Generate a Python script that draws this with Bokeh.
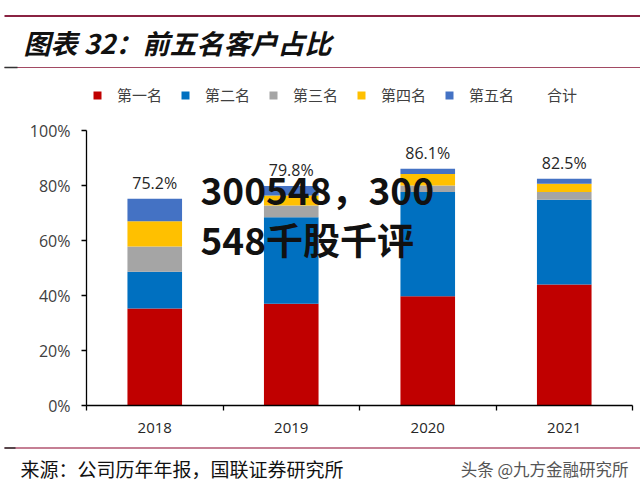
from bokeh.plotting import figure
from bokeh.models import (ColumnDataSource, Range1d, LinearAxis, FixedTicker, Arrow,
                          Legend, LegendItem, Label, PrintfTickFormatter)
from bokeh.embed import file_html
from bokeh.resources import INLINE

# ---------------- data ----------------
years = ["2018", "2019", "2020", "2021"]
top1 = [35.3, 37.0, 39.7, 44.0]
top2 = [13.3, 31.5, 37.9, 30.8]
top3 = [9.2, 4.2, 2.4, 2.8]
top4 = [9.2, 3.7, 4.2, 3.0]
top5 = [8.2, 3.4, 1.9, 1.9]
totals = [75.2, 79.8, 86.1, 82.5]
series_names = ["第一名", "第二名", "第三名", "第四名", "第五名"]
total_name = "合计"
y_ticks = [0, 20, 40, 60, 80, 100]

title_text = "图表 32：前五名客户占比"
source_text = "来源：公司历年年报，国联证券研究所"
credit_text = "头条 @九方金融研究所"
overlay_lines = ["300548，300", "548千股千评"]

# ---------------- style / layout ----------------
series_colors = ["#C00000", "#0070C0", "#A5A5A5", "#FFC000", "#4472C4"]
CJK = "Noto Sans CJK SC"
NUM = "Open Sans"
W, H = 640, 494
AX_L, AX_R = 86, 632      # x-axis extent in page pixels
AX_B, AX_T = 405, 130     # y-axis 0% / 100% in page pixels

n = len(years)
px_x = (AX_R - AX_L) / n
px_y = (AX_B - AX_T) / 100.0
x_range = Range1d(0.5 - AX_L / px_x, n + 0.5 + (W - AX_R) / px_x)
y_range = Range1d(-(H - AX_B) / px_y, AX_B / px_y)


def sx(X):
    return X


def sy(Y):
    return H - Y


xs = [i + 1 for i in range(n)]
src = ColumnDataSource(dict(x=xs, top1=top1, top2=top2, top3=top3, top4=top4, top5=top5))

p = figure(width=W, height=H, x_range=x_range, y_range=y_range, toolbar_location=None,
           output_backend="svg", x_axis_location=None, y_axis_location=None,
           min_border=0, outline_line_color=None)
p.grid.visible = False

yaxis = LinearAxis(ticker=FixedTicker(ticks=y_ticks), formatter=PrintfTickFormatter(format="%d%%"),
                   fixed_location=0.5, bounds=(0, 100),
                   axis_line_color="black", axis_line_width=1.3,
                   major_tick_line_color="black", major_tick_line_width=1.3,
                   major_tick_out=5, major_tick_in=0, minor_tick_line_color=None,
                   major_label_standoff=11, major_label_text_font=NUM,
                   major_label_text_font_size="16px", major_label_text_color="#404040")
p.add_layout(yaxis, "left")

minor = [x - 0.5 for x in xs] + [xs[-1] + 0.5]
xaxis = LinearAxis(ticker=FixedTicker(ticks=xs, minor_ticks=minor),
                   major_label_overrides={x: y for x, y in zip(xs, years)},
                   fixed_location=0, bounds=(0.5, n + 0.5),
                   axis_line_color="black", axis_line_width=1.3,
                   major_tick_out=0, major_tick_in=0,
                   minor_tick_out=5, minor_tick_in=0, minor_tick_line_color="black",
                   minor_tick_line_width=1.3, major_label_standoff=12,
                   major_label_text_font=NUM, major_label_text_font_size="15px",
                   major_label_text_color="#262626")
p.add_layout(xaxis, "below")

rs = p.vbar_stack(stackers=["top1", "top2", "top3", "top4", "top5"], x="x", width=0.4,
                  fill_color=series_colors, line_color=None, source=src)

tsrc = ColumnDataSource(dict(x=xs, y=totals, label=[f"{v:.1f}%" for v in totals]))
tr = p.text(x="x", y="y", text="label", source=tsrc, text_font={"value": NUM},
            text_font_size="16px", text_color="#262626", text_align="center",
            text_baseline="bottom", y_offset=-5)

legend_style = dict(orientation="horizontal", padding=7, spacing=18, glyph_width=10,
                    glyph_height=10, label_standoff=15, label_text_font=CJK,
                    label_text_font_size="15px", label_text_color="#404040",
                    border_line_color=None, background_fill_alpha=0, margin=0)
items = [LegendItem(label=nm, renderers=[r]) for nm, r in zip(series_names, rs)]
p.add_layout(Legend(items=items, location=(sx(92), sy(105)), **legend_style))
p.add_layout(Legend(items=[LegendItem(label=total_name, renderers=[tr])],
                    location=(sx(522), sy(105)), **legend_style))

# watermark overlay text
for txt, Y in zip(overlay_lines, [188, 238]):
    p.add_layout(Label(x=sx(200), y=sy(Y), x_units="screen", y_units="screen", text=txt,
                       text_font=CJK, text_font_size="37px", text_font_style="bold",
                       text_color="#111111", text_baseline="middle", text_align="left"))


def rule(x0, x1, Y, color, width):
    p.add_layout(Arrow(end=None, x_start=sx(x0), x_end=sx(x1), y_start=sy(Y), y_end=sy(Y),
                       start_units="screen", end_units="screen",
                       line_color=color, line_width=width))


# header
rule(4, 640, 15.5, "#8A2342", 2)
rule(4, 640, 67, "#A24A63", 1.2)
rule(4, 17, 67, "#333333", 1.5)
p.add_layout(Label(x=sx(23), y=sy(42), x_units="screen", y_units="screen", text=title_text,
                   text_font=CJK, text_font_size="27px", text_font_style="bold italic",
                   text_color="#111111", text_baseline="middle", text_align="left"))

# footer
rule(4, 640, 447.5, "#B25470", 1.5)
rule(4, 15, 447.5, "#333333", 1.5)
p.add_layout(Label(x=sx(20), y=sy(468), x_units="screen", y_units="screen", text=source_text,
                   text_font=CJK, text_font_size="19px", text_color="#111111",
                   text_baseline="middle", text_align="left"))
p.add_layout(Label(x=sx(628), y=sy(468), x_units="screen", y_units="screen", text=credit_text,
                   text_font=CJK, text_font_size="16.5px", text_color="#555555",
                   text_baseline="middle", text_align="right"))

open("out.html", "w").write(file_html(p, INLINE))
